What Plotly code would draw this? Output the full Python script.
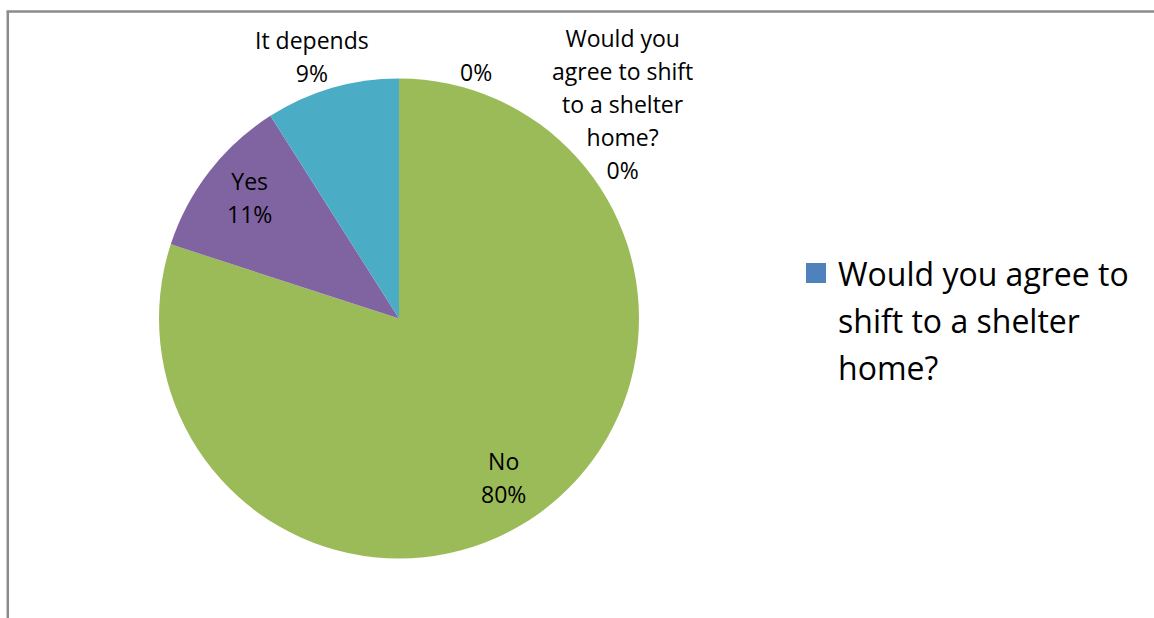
import math
import textwrap
import plotly.graph_objects as go

# ---- data ----
categories = ["Would you agree to shift to a shelter home?", "", "No", "Yes", "It depends"]
values = [0, 0, 80, 11, 9]
colors = ["#4F81BD", "#C0504D", "#9BBB59", "#8064A2", "#4BACC6"]
series_name = "Would you agree to shift to a shelter home?"

# label placement style (radius factor, angle offset in degrees from slice mid-angle)
label_radius = [1.292, 1.076, 0.792, 0.803, 1.15]
label_angle_offset = [46.2, 17.35, 2.8, 1.1, -2.2]

W, H = 1154, 618
cx, cy, R = 399.0, 318.5, 240.0  # pie centre / radius in pixels
FONT = "Open Sans"


def lines_html(lines, size):
    return "<br>".join(f'<span style="font-size:{size}px">{ln}</span>' for ln in lines)


fig = go.Figure()

fig.add_trace(go.Pie(
    labels=categories,
    values=values,
    name=series_name,
    sort=False,
    direction="clockwise",
    rotation=0,
    marker=dict(colors=colors, line=dict(width=0)),
    textinfo="none",
    hoverinfo="label+percent",
    showlegend=False,
    domain=dict(x=[(cx - R) / W, (cx + R) / W], y=[1 - (cy + R) / H, 1 - (cy - R) / H]),
))

# data labels computed from slice angles
total = sum(values)
cum = 0.0
annotations = []
for i, (cat, v) in enumerate(zip(categories, values)):
    mid = (cum + v / 2.0) / total * 360.0
    cum += v
    ang = math.radians(mid + label_angle_offset[i])
    px = cx + label_radius[i] * R * math.sin(ang)
    py = cy - label_radius[i] * R * math.cos(ang)
    pct = f"{v / total:.0%}"
    name_lines = textwrap.wrap(cat, 14) if cat else []
    annotations.append(dict(
        x=px / W, y=1 - py / H, xref="paper", yref="paper",
        text=lines_html(name_lines + [pct], 23), showarrow=False,
        xanchor="center", yanchor="middle", align="center",
        font=dict(family=FONT, size=25.4, color="#000000"),
    ))

# legend (single series entry, as in the original)
leg_sq = 20
leg_x, leg_y = 806, 263
annotations.append(dict(
    x=836 / W, y=1 - 320 / H, xref="paper", yref="paper",
    text=lines_html(textwrap.wrap(series_name, 18), 32), showarrow=False,
    xanchor="left", yanchor="middle", align="left",
    font=dict(family=FONT, size=36, color="#000000"),
))

fig.update_layout(
    width=W, height=H,
    margin=dict(l=0, r=0, t=0, b=0),
    paper_bgcolor="white", plot_bgcolor="white",
    annotations=annotations,
    showlegend=False,
    shapes=[
        dict(type="rect", xref="paper", yref="paper",
             x0=leg_x / W, x1=(leg_x + leg_sq) / W, y0=1 - (leg_y + leg_sq) / H, y1=1 - leg_y / H,
             fillcolor=colors[0], line=dict(width=0)),
        dict(type="line", xref="paper", yref="paper", x0=7.8 / W, x1=7.8 / W, y0=0, y1=1 - 11.5 / H,
             line=dict(color="#8b8b8b", width=2.5)),
        dict(type="line", xref="paper", yref="paper", x0=6.5 / W, x1=1, y0=1 - 11.5 / H, y1=1 - 11.5 / H,
             line=dict(color="#8b8b8b", width=2.5)),
    ],
)

fig.write_html(
    "out.html",
    config={"displayModeBar": False},
    post_script="document.body.style.margin='0';document.body.style.overflow='hidden';",
)
